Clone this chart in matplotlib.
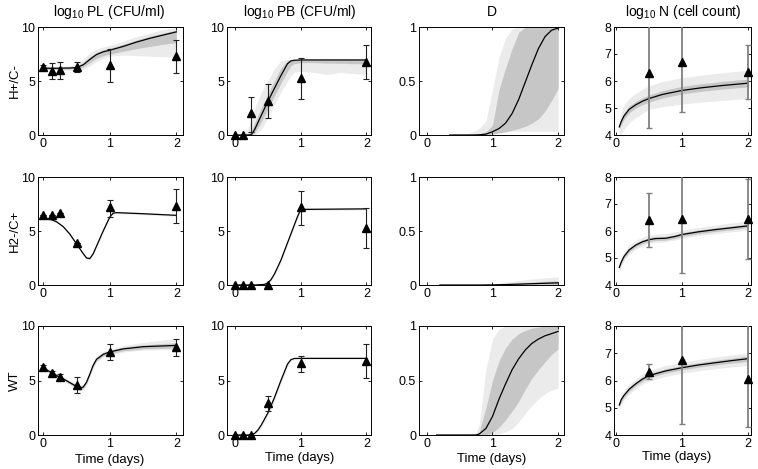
import matplotlib
matplotlib.use("Agg")
import matplotlib.pyplot as plt

plt.rcParams['font.family'] = ['Liberation Sans', 'DejaVu Sans']
plt.rcParams['mathtext.fontset'] = 'custom'
plt.rcParams['mathtext.rm'] = 'Liberation Sans'
plt.rcParams['mathtext.it'] = 'Liberation Sans'

col_titles = ['log$_{10}$ PL (CFU/ml)', 'log$_{10}$ PB (CFU/ml)', 'D', 'log$_{10}$ N (cell count)']
row_labels = ['H+/C-', 'H2-/C+', 'WT']

obs_t = [0, 0.125, 0.25, 0.5, 1, 2]
obs_n_t = [0.5, 1, 2]

# ---------------- row 1 : H+/C- ----------------
pl1_t = [0, 0.1, 0.2, 0.3, 0.4, 0.5, 0.6, 0.7, 0.8, 0.9, 1.0, 1.2, 1.4, 1.6, 1.8, 2.0]
pl1_line = [6.2, 6.18, 6.18, 6.2, 6.2, 6.25, 6.5, 7.0, 7.45, 7.7, 7.85, 8.2, 8.6, 8.95, 9.25, 9.55]
pl1_dlo = [6.1, 6.1, 6.1, 6.1, 6.1, 6.15, 6.3, 6.7, 7.1, 7.35, 7.5, 7.75, 8.0, 8.2, 8.4, 8.55]
pl1_dhi = [6.3, 6.25, 6.25, 6.28, 6.3, 6.4, 6.7, 7.25, 7.65, 7.9, 8.05, 8.4, 8.8, 9.15, 9.45, 9.7]
pl1_llo = [6.0, 6.0, 6.0, 6.0, 6.0, 6.0, 6.1, 6.4, 6.8, 7.1, 7.3, 7.4, 7.35, 7.3, 7.25, 7.2]
pl1_lhi = [6.4, 6.35, 6.35, 6.35, 6.4, 6.6, 7.0, 7.6, 7.95, 8.15, 8.3, 8.7, 9.1, 9.45, 9.75, 9.95]
pl1_y = [6.3, 5.95, 6.05, 6.3, 6.5, 7.3]
pl1_lo = [6.0, 5.2, 5.2, 5.8, 4.9, 5.7]
pl1_hi = [6.5, 6.7, 6.8, 6.8, 8.0, 8.8]

pb1_t = [0, 0.1, 0.2, 0.25, 0.3, 0.4, 0.5, 0.6, 0.7, 0.8, 0.85, 0.9, 1.0, 1.2, 1.4, 1.6, 1.8, 2.0]
pb1_line = [0, 0, 0, 0.02, 0.5, 1.8, 3.1, 4.3, 5.5, 6.6, 6.85, 6.92, 6.95, 6.95, 6.95, 6.95, 6.95, 6.95]
pb1_dlo = [0, 0, 0, 0, 0.2, 1.2, 2.4, 3.6, 4.8, 5.9, 6.4, 6.6, 6.7, 6.7, 6.65, 6.65, 6.6, 6.6]
pb1_dhi = [0, 0, 0.1, 0.4, 1.1, 2.5, 3.8, 5.0, 6.2, 6.9, 6.95, 7.0, 7.0, 7.0, 7.0, 7.0, 7.0, 7.0]
pb1_llo = [0, 0, 0, 0, 0, 0.5, 1.6, 2.8, 4.0, 5.0, 5.5, 5.8, 5.9, 5.8, 5.6, 5.8, 5.7, 5.6]
pb1_lhi = [0, 0.05, 0.6, 1.5, 2.5, 3.9, 5.0, 6.1, 6.9, 7.0, 7.0, 7.0, 7.0, 7.0, 7.0, 7.0, 7.0, 7.0]
pb1_y = [0, 0, 2.0, 3.15, 5.25, 6.8]
pb1_lo = [0, 0, 0.3, 1.55, 3.3, 5.15]
pb1_hi = [0, 0, 3.5, 4.7, 7.1, 8.3]

d1_t = [0.35, 0.5, 0.6, 0.7, 0.8, 0.9, 1.0, 1.1, 1.2, 1.3, 1.4, 1.5, 1.6, 1.7, 1.8, 1.9, 2.0]
d1_line = [0, 0, 0, 0, 0.002, 0.008, 0.03, 0.06, 0.11, 0.2, 0.33, 0.49, 0.65, 0.8, 0.91, 0.97, 0.99]
d1_dlo = [0, 0, 0, 0, 0, 0.002, 0.01, 0.02, 0.03, 0.045, 0.06, 0.08, 0.11, 0.15, 0.22, 0.32, 0.43]
d1_dhi = [0, 0, 0, 0, 0.01, 0.03, 0.09, 0.42, 0.62, 0.8, 0.95, 1, 1, 1, 1, 1, 1]
d1_llo = [0, 0, 0, 0, 0, 0, 0.005, 0.015, 0.03, 0.035, 0.035, 0.035, 0.035, 0.035, 0.035, 0.035, 0.035]
d1_lhi = [0, 0.005, 0.01, 0.03, 0.06, 0.13, 0.42, 0.72, 0.9, 0.98, 1, 1, 1, 1, 1, 1, 1]

n1_t = [0.05, 0.08, 0.12, 0.2, 0.3, 0.4, 0.5, 0.7, 1.0, 1.3, 1.6, 2.0]
n1_line = [4.3, 4.5, 4.7, 4.95, 5.12, 5.25, 5.35, 5.5, 5.65, 5.75, 5.83, 5.92]
n1_dlo = [4.2, 4.38, 4.57, 4.82, 5.0, 5.12, 5.22, 5.37, 5.52, 5.62, 5.7, 5.78]
n1_dhi = [4.4, 4.62, 4.83, 5.08, 5.25, 5.38, 5.48, 5.64, 5.8, 5.9, 5.98, 6.07]
n1_llo = [4.0, 4.05, 4.2, 4.45, 4.65, 4.8, 4.95, 5.05, 5.15, 5.22, 5.28, 5.36]
n1_lhi = [4.55, 4.85, 5.1, 5.35, 5.55, 5.7, 5.82, 5.98, 6.12, 6.22, 6.3, 6.4]
n1_y = [6.28, 6.7, 6.35]
n1_lo = [4.25, 4.84, 5.33]
n1_hi = [8.5, 8.5, 7.33]

# ---------------- row 2 : H2-/C+ ----------------
pl2_t = [0, 0.1, 0.2, 0.3, 0.4, 0.5, 0.6, 0.65, 0.7, 0.75, 0.8, 0.9, 1.0, 1.05, 1.1, 1.5, 2.0]
pl2_line = [6.15, 6.1, 5.85, 5.4, 4.7, 3.8, 2.9, 2.5, 2.45, 2.9, 3.6, 5.0, 6.3, 6.65, 6.7, 6.6, 6.45]
pl2_blo = [6.05, 6.0, 5.75, 5.3, 4.6, 3.7, 2.8, 2.4, 2.35, 2.75, 3.45, 4.85, 6.15, 6.55, 6.6, 6.5, 6.35]
pl2_bhi = [6.25, 6.2, 5.95, 5.5, 4.8, 3.9, 3.0, 2.6, 2.55, 3.05, 3.75, 5.15, 6.45, 6.75, 6.8, 6.7, 6.55]
pl2_y = [6.45, 6.5, 6.65, 3.85, 7.2, 7.3]
pl2_lo = [6.45, 6.5, 6.65, 3.85, 6.3, 5.7]
pl2_hi = [6.45, 6.5, 6.65, 3.85, 7.9, 8.85]

pb2_t = [0, 0.3, 0.45, 0.5, 0.55, 0.6, 0.7, 0.8, 0.9, 0.95, 1.0, 2.0]
pb2_line = [0, 0, 0.05, 0.2, 0.5, 1.0, 2.3, 3.9, 5.5, 6.3, 7.0, 7.05]
pb2_blo = [0, 0, 0, 0.1, 0.35, 0.8, 2.1, 3.7, 5.3, 6.1, 6.9, 6.95]
pb2_bhi = [0, 0, 0.1, 0.35, 0.7, 1.2, 2.5, 4.1, 5.7, 6.5, 7.1, 7.1]
pb2_y = [0, 0, 0, 0, 7.2, 5.25]
pb2_lo = [0, 0, 0, 0, 5.56, 3.4]
pb2_hi = [0, 0, 0, 0, 8.7, 7.1]

d2_t = [0.2, 0.8, 1.0, 1.2, 1.4, 1.6, 1.8, 2.0]
d2_line = [0, 0, 0.001, 0.004, 0.008, 0.012, 0.016, 0.02]
d2_dlo = [0, 0, 0, 0, 0.001, 0.002, 0.003, 0.004]
d2_dhi = [0, 0, 0.003, 0.01, 0.018, 0.026, 0.034, 0.04]
d2_llo = [0, 0, 0, 0, 0, 0, 0, 0]
d2_lhi = [0, 0.002, 0.01, 0.025, 0.04, 0.055, 0.065, 0.075]

n2_t = [0.05, 0.08, 0.12, 0.2, 0.3, 0.4, 0.5, 0.6, 0.75, 0.9, 1.0, 1.25, 1.5, 1.75, 2.0]
n2_line = [4.65, 4.85, 5.05, 5.3, 5.48, 5.6, 5.68, 5.72, 5.73, 5.8, 5.87, 5.97, 6.05, 6.12, 6.19]
n2_dlo = [4.58, 4.78, 4.98, 5.23, 5.41, 5.53, 5.61, 5.65, 5.66, 5.73, 5.8, 5.9, 5.98, 6.05, 6.12]
n2_dhi = [4.72, 4.92, 5.12, 5.37, 5.55, 5.67, 5.75, 5.79, 5.8, 5.87, 5.94, 6.04, 6.12, 6.19, 6.26]
n2_llo = [4.5, 4.7, 4.9, 5.15, 5.33, 5.45, 5.53, 5.58, 5.6, 5.67, 5.73, 5.83, 5.9, 5.97, 6.03]
n2_lhi = [4.8, 5.02, 5.22, 5.47, 5.65, 5.77, 5.85, 5.88, 5.9, 5.97, 6.03, 6.13, 6.22, 6.3, 6.37]
n2_y = [6.41, 6.43, 6.44]
n2_lo = [5.42, 4.43, 4.96]
n2_hi = [7.4, 8.5, 7.91]

# ---------------- row 3 : WT ----------------
pl3_t = [0, 0.1, 0.2, 0.3, 0.4, 0.5, 0.55, 0.6, 0.65, 0.7, 0.75, 0.8, 0.9, 1.0, 1.2, 1.5, 2.0]
pl3_line = [6.15, 5.8, 5.45, 5.15, 4.8, 4.45, 4.3, 4.4, 4.85, 5.6, 6.4, 6.95, 7.4, 7.62, 7.9, 8.1, 8.22]
pl3_dlo = [6.05, 5.7, 5.35, 5.05, 4.7, 4.3, 4.15, 4.25, 4.7, 5.45, 6.25, 6.8, 7.25, 7.47, 7.72, 7.9, 7.98]
pl3_dhi = [6.25, 5.9, 5.55, 5.25, 4.9, 4.6, 4.45, 4.55, 5.0, 5.75, 6.55, 7.1, 7.55, 7.77, 8.05, 8.28, 8.45]
pl3_llo = [5.95, 5.6, 5.25, 4.95, 4.6, 4.2, 4.05, 4.15, 4.6, 5.35, 6.15, 6.7, 7.15, 7.35, 7.6, 7.8, 7.85]
pl3_lhi = [6.35, 6.0, 5.65, 5.35, 5.0, 4.7, 4.55, 4.65, 5.1, 5.85, 6.65, 7.2, 7.65, 7.9, 8.2, 8.5, 8.85]
pl3_y = [6.25, 5.72, 5.35, 4.59, 7.64, 8.1]
pl3_lo = [6.0, 5.6, 5.05, 3.82, 6.88, 7.25]
pl3_hi = [6.45, 5.85, 5.6, 5.35, 8.35, 8.8]

pb3_t = [0, 0.2, 0.25, 0.3, 0.35, 0.4, 0.5, 0.6, 0.7, 0.8, 0.85, 0.9, 1.0, 2.0]
pb3_line = [0, 0, 0.02, 0.15, 0.45, 0.9, 2.0, 3.4, 5.0, 6.5, 6.9, 7.02, 7.03, 7.03]
pb3_blo = [0, 0, 0, 0.05, 0.3, 0.7, 1.75, 3.1, 4.7, 6.25, 6.75, 6.95, 6.97, 6.97]
pb3_bhi = [0, 0.02, 0.08, 0.3, 0.65, 1.15, 2.3, 3.75, 5.35, 6.8, 7.0, 7.07, 7.08, 7.08]
pb3_y = [0, 0, 0, 2.9, 6.6, 6.8]
pb3_lo = [0, 0, 0, 2.2, 5.8, 5.2]
pb3_hi = [0, 0, 0, 3.6, 7.27, 8.35]

d3_t = [0.15, 0.5, 0.7, 0.75, 0.8, 0.9, 1.0, 1.1, 1.2, 1.3, 1.4, 1.5, 1.6, 1.7, 1.8, 1.9, 2.0]
d3_line = [0, 0, 0, 0, 0.01, 0.06, 0.17, 0.33, 0.47, 0.6, 0.7, 0.78, 0.84, 0.88, 0.91, 0.93, 0.95]
d3_dlo = [0, 0, 0, 0, 0, 0, 0.02, 0.07, 0.14, 0.22, 0.31, 0.42, 0.52, 0.6, 0.67, 0.74, 0.79]
d3_dhi = [0, 0, 0, 0, 0.03, 0.25, 0.5, 0.68, 0.8, 0.88, 0.93, 0.96, 0.98, 0.99, 1, 1, 1]
d3_llo = [0, 0, 0, 0, 0, 0, 0, 0.01, 0.03, 0.06, 0.12, 0.2, 0.27, 0.33, 0.38, 0.41, 0.43]
d3_lhi = [0, 0, 0.01, 0.02, 0.1, 0.6, 0.88, 0.97, 1, 1, 1, 1, 1, 1, 1, 1, 1]

n3_t = [0.05, 0.08, 0.12, 0.2, 0.3, 0.4, 0.5, 0.75, 1.0, 1.25, 1.5, 1.75, 2.0]
n3_line = [5.1, 5.3, 5.45, 5.68, 5.88, 6.05, 6.18, 6.35, 6.47, 6.57, 6.65, 6.73, 6.8]
n3_dlo = [5.02, 5.22, 5.37, 5.6, 5.8, 5.97, 6.1, 6.27, 6.39, 6.49, 6.57, 6.64, 6.7]
n3_dhi = [5.18, 5.38, 5.53, 5.76, 5.96, 6.13, 6.26, 6.43, 6.55, 6.65, 6.74, 6.82, 6.9]
n3_llo = [4.95, 5.13, 5.28, 5.5, 5.7, 5.86, 5.98, 6.15, 6.27, 6.36, 6.43, 6.5, 6.55]
n3_lhi = [5.25, 5.47, 5.62, 5.86, 6.06, 6.24, 6.37, 6.55, 6.67, 6.77, 6.86, 6.94, 7.0]
n3_y = [6.33, 6.75, 6.05]
n3_lo = [6.05, 4.4, 4.3]
n3_hi = [6.6, 8.5, 8.5]

# layout in pixels of the 758x469 reference
W, H = 758, 469
col_left = [38, 227, 419, 614]
col_right = [183, 371, 564, 751]
row_top = [27, 177, 326]
row_bot = [135, 285, 435]
col_xlim = [(-0.08, 2.1), (-0.12, 2.07), (-0.12, 2.09), (-0.03, 2.045)]
col_ylim = [(0, 10), (0, 10), (0, 1), (4, 8)]
col_yticks = [[0, 5, 10], [0, 5, 10], [0, 0.5, 1], [4, 5, 6, 7, 8]]
col_yticklabels = [['0', '5', '10'], ['0', '5', '10'], ['0', '0.5', '1'], ['4', '5', '6', '7', '8']]

DARK = '#c6c6c6'
LIGHT = '#ebebeb'

fig = plt.figure(figsize=(W / 100, H / 100), dpi=100)


def make_ax(r, c):
    l = col_left[c] / W
    b = 1 - row_bot[r] / H
    w = (col_right[c] - col_left[c]) / W
    h = (row_bot[r] - row_top[r]) / H
    ax = fig.add_axes([l, b, w, h])
    ax.set_xlim(*col_xlim[c])
    ax.set_ylim(*col_ylim[c])
    ax.set_xticks([0, 1, 2])
    ax.set_yticks(col_yticks[c])
    ax.set_yticklabels(col_yticklabels[c])
    ax.tick_params(direction='in', length=2.5, width=0.6, top=True, right=True,
                   labelsize=9, pad=2)
    for s in ax.spines.values():
        s.set_linewidth(0.7)
    return ax


def model(ax, t, line, bands):
    for lo, hi, col in bands:
        ax.fill_between(t, lo, hi, color=col, lw=0, zorder=1)
    ax.plot(t, line, color='black', lw=0.9, zorder=3)


def obs(ax, t, y, lo, hi, gray=False):
    yerr = [[yy - a for yy, a in zip(y, lo)], [b - yy for yy, b in zip(y, hi)]]
    if gray:
        ax.errorbar(t, y, yerr=yerr, fmt='none', ecolor='#808080', elinewidth=1.3,
                    capsize=2.5, capthick=1.0, zorder=4)
    else:
        ax.errorbar(t, y, yerr=yerr, fmt='none', ecolor='#202020', elinewidth=0.8,
                    capsize=2.0, capthick=0.8, zorder=4)
    ax.plot(t, y, '^', color='black', ms=5.5, zorder=6, clip_on=False)


# row 1
ax = make_ax(0, 0)
model(ax, pl1_t, pl1_line, [(pl1_llo, pl1_lhi, LIGHT), (pl1_dlo, pl1_dhi, DARK)])
obs(ax, obs_t, pl1_y, pl1_lo, pl1_hi)
ax = make_ax(0, 1)
model(ax, pb1_t, pb1_line, [(pb1_llo, pb1_lhi, LIGHT), (pb1_dlo, pb1_dhi, DARK)])
obs(ax, obs_t, pb1_y, pb1_lo, pb1_hi)
ax = make_ax(0, 2)
model(ax, d1_t, d1_line, [(d1_llo, d1_lhi, LIGHT), (d1_dlo, d1_dhi, DARK)])
ax = make_ax(0, 3)
model(ax, n1_t, n1_line, [(n1_llo, n1_lhi, LIGHT), (n1_dlo, n1_dhi, DARK)])
obs(ax, obs_n_t, n1_y, n1_lo, n1_hi, gray=True)

# row 2
ax = make_ax(1, 0)
model(ax, pl2_t, pl2_line, [(pl2_blo, pl2_bhi, LIGHT)])
obs(ax, obs_t, pl2_y, pl2_lo, pl2_hi)
ax = make_ax(1, 1)
model(ax, pb2_t, pb2_line, [(pb2_blo, pb2_bhi, LIGHT)])
obs(ax, obs_t, pb2_y, pb2_lo, pb2_hi)
ax = make_ax(1, 2)
model(ax, d2_t, d2_line, [(d2_llo, d2_lhi, LIGHT), (d2_dlo, d2_dhi, DARK)])
ax = make_ax(1, 3)
model(ax, n2_t, n2_line, [(n2_llo, n2_lhi, LIGHT), (n2_dlo, n2_dhi, DARK)])
obs(ax, obs_n_t, n2_y, n2_lo, n2_hi, gray=True)

# row 3
ax = make_ax(2, 0)
model(ax, pl3_t, pl3_line, [(pl3_llo, pl3_lhi, LIGHT), (pl3_dlo, pl3_dhi, DARK)])
obs(ax, obs_t, pl3_y, pl3_lo, pl3_hi)
ax = make_ax(2, 1)
model(ax, pb3_t, pb3_line, [(pb3_blo, pb3_bhi, LIGHT)])
obs(ax, obs_t, pb3_y, pb3_lo, pb3_hi)
ax = make_ax(2, 2)
model(ax, d3_t, d3_line, [(d3_llo, d3_lhi, LIGHT), (d3_dlo, d3_dhi, DARK)])
ax = make_ax(2, 3)
model(ax, n3_t, n3_line, [(n3_llo, n3_lhi, LIGHT), (n3_dlo, n3_dhi, DARK)])
obs(ax, obs_n_t, n3_y, n3_lo, n3_hi, gray=True)

# column titles, row labels, x labels
title_x = [109, 300, 492, 683]
for x, s in zip(title_x, col_titles):
    fig.text(x / W, 1 - 12 / H, s, ha='center', va='center', fontsize=10)
for r, s in enumerate(row_labels):
    yc = (row_top[r] + row_bot[r]) / 2
    fig.text(15 / W, 1 - yc / H, s, ha='center', va='center', rotation=90, fontsize=9.5)
xlab_pos = [(110, 460), (300, 458), (492, 459), (677, 457)]
for x, y in xlab_pos:
    fig.text(x / W, 1 - y / H, 'Time (days)', ha='center', va='center', fontsize=9.5)

fig.savefig('out.png', dpi=100)
